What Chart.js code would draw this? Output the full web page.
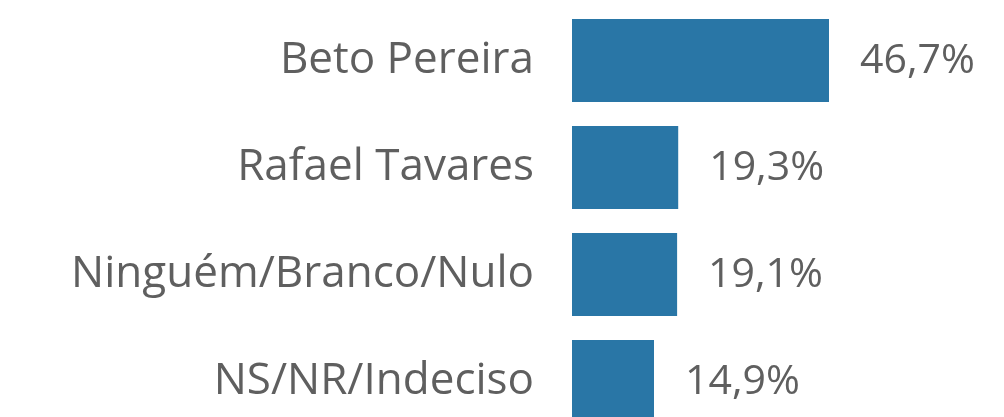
<!DOCTYPE html>
<html>
<head>
<meta charset="utf-8">
<script src="https://cdn.jsdelivr.net/npm/chart.js@4"></script>
<style>
  html, body { margin: 0; padding: 0; background: #fff; overflow: hidden; }
  #wrap { width: 1004px; height: 435px; }
</style>
</head>
<body>
<div id="wrap"><canvas id="votos"></canvas></div>
<script>
// intenção de voto
var candidatos = ['Beto Pereira', 'Rafael Tavares', 'Ninguém/Branco/Nulo', 'NS/NR/Indeciso'];
var percentuais = [46.7, 19.3, 19.1, 14.9];
var rotulos = ['46,7%', '19,3%', '19,1%', '14,9%'];

var corTexto = '#5f5f5f';
var fonte = "'Open Sans', 'Noto Sans', sans-serif";

// escreve o valor ao lado de cada barra
var valoresPlugin = {
  id: 'valores',
  afterDatasetsDraw: function(chart) {
    var ctx = chart.ctx;
    var meta = chart.getDatasetMeta(0);
    ctx.save();
    ctx.fillStyle = corTexto;
    ctx.font = '41px ' + fonte;
    ctx.textAlign = 'left';
    ctx.textBaseline = 'middle';
    meta.data.forEach(function(bar, i) {
      ctx.fillText(rotulos[i], bar.x + 31, bar.y + 1);
    });
    ctx.restore();
  }
};

var ctx = document.getElementById('votos').getContext('2d');
new Chart(ctx, {
  type: 'bar',
  data: {
    labels: candidatos,
    datasets: [{
      data: percentuais,
      backgroundColor: '#2976a6',
      borderWidth: 0,
      categoryPercentage: 1,
      barPercentage: 0.776
    }]
  },
  options: {
    indexAxis: 'y',
    responsive: true,
    maintainAspectRatio: false,
    animation: false,
    layout: { padding: { top: 7, bottom: 0, left: 0, right: 0 } },
    plugins: {
      legend: { display: false },
      tooltip: { enabled: false }
    },
    scales: {
      x: {
        display: false,
        min: 0,
        max: 78.5
      },
      y: {
        grid: { display: false },
        border: { display: false },
        ticks: {
          color: corTexto,
          font: { size: 44, family: fonte },
          padding: 30
        },
        afterFit: function(scale) {
          scale.width = 572;
          scale.paddingTop = 0;
          scale.paddingBottom = 0;
        }
      }
    }
  },
  plugins: [valoresPlugin]
});
</script>
</body>
</html>
